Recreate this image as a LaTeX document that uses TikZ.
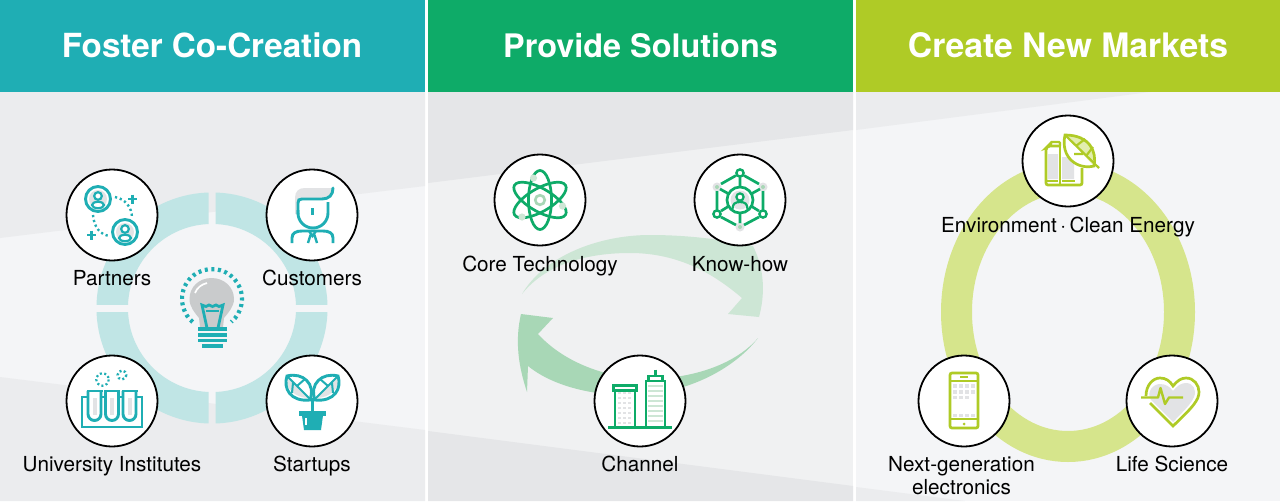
\documentclass[tikz,border=0pt]{standalone}
\usepackage{fontspec}
\setmainfont{TeX Gyre Heros}
\definecolor{teal1}{HTML}{1FAEB4}
\definecolor{green1}{HTML}{0EAB68}
\definecolor{lime1}{HTML}{AFCB26}
\definecolor{bgA}{HTML}{F4F5F7}
\definecolor{bgB}{HTML}{F0F1F2}
\definecolor{bandA}{HTML}{EBECEE}
\definecolor{bandB}{HTML}{E5E6E8}
\definecolor{ringT}{HTML}{C0E5E5}
\definecolor{ringL}{HTML}{D6E58C}
\definecolor{arrLight}{HTML}{CDE6D5}
\definecolor{arrDark}{HTML}{A8D7B6}
\definecolor{icg}{HTML}{E2E3E5}
\definecolor{bulbg}{HTML}{C9CBCC}
\tikzset{
  iconring/.style={circle,draw=black,fill=white,line width=1.8pt,minimum size=91pt,inner sep=0pt},
  lab/.style={font=\fontsize{20.7}{23}\selectfont,text=black,anchor=base,inner sep=0pt},
  head/.style={text=white,anchor=base,inner sep=0pt},
  tl/.style={draw=teal1,line width=2.9pt},
  gl/.style={draw=green1,line width=2.7pt},
  ll/.style={draw=lime1,line width=2.7pt},
}
\begin{document}
\begin{tikzpicture}[x=1pt,y=-1pt]
\useasboundingbox (0,0) rectangle (1280,501);
\fill[white] (0,0) rectangle (1280,501);
% panels
\fill[bgA] (0,92) rectangle (425,501);
\fill[bgB] (428,92) rectangle (853,501);
\fill[bgA] (856,92) rectangle (1280,501);
\fill[bandA] (0,92) -- (425,92) -- (425,186) -- (0,238) -- cycle;
\fill[bandB] (428,92) -- (853,92) -- (853,130) -- (428,183) -- cycle;
\fill[bandA] (856,92) -- (1150,92) -- (856,130) -- cycle;
\fill[bandA] (0,377) -- (425,430) -- (425,501) -- (0,501) -- cycle;
\fill[bandB] (428,431) -- (853,486) -- (853,501) -- (428,501) -- cycle;
\fill[bandA] (856,487) -- (965,501) -- (856,501) -- cycle;
\fill[teal1] (0,0) rectangle (425,92);
\fill[green1] (428,0) rectangle (853,92);
\fill[lime1] (856,0) rectangle (1280,92);
\node[head,font=\bfseries\fontsize{33.2}{36}\selectfont] (h1) at (212,57) {Foster Co-Creation};
\node[head,font=\bfseries\fontsize{32.4}{36}\selectfont] (h2) at (640.5,57) {Provide Solutions};
\node[head,font=\bfseries\fontsize{33.7}{36}\selectfont] (h3) at (1068,57) {Create New Markets};
% ring 1
\foreach \xa/\ya/\xb/\yb in {90/185/208.5/304, 215.7/185/335/304, 90/312/208.5/430, 215.7/312/335/430}{
  \begin{scope}
    \clip (\xa,\ya) rectangle (\xb,\yb);
    \draw[ringT,line width=31.5pt] (212,308) circle (99.8);
  \end{scope}}
% ring 3
\draw[ringL,line width=31pt] (1068,312) ellipse (111.5 and 134.5);
% arrows
\fill[arrLight] (522,294) .. controls (545,255) and (600,235) .. (650,235)
  .. controls (690,235) and (725,240) .. (753,246)
  .. controls (765,270) and (765,295) .. (759,317) -- (728,314) -- (742,298)
  .. controls (715,275) and (680,253) .. (630,253)
  .. controls (585,253) and (545,265) .. (522,294) -- cycle;
\fill[arrDark] (758,338) .. controls (735,368) and (690,392) .. (640,395)
  .. controls (600,397) and (555,388) .. (528,366) -- (527,392)
  .. controls (518,365) and (515,340) .. (521,314) -- (553,318) -- (538,334)
  .. controls (560,358) and (595,375) .. (640,379)
  .. controls (690,380) and (735,365) .. (758,338) -- cycle;
% circles
\node[iconring] (partners) at (112,215) {};
\node[iconring] (customers) at (312,215) {};
\node[iconring] (university) at (112,401) {};
\node[iconring] (startups) at (312,401) {};
\node[iconring] (core) at (540,200) {};
\node[iconring] (knowhow) at (740,200) {};
\node[iconring] (channel) at (640,401) {};
\node[iconring] (env) at (1068,161) {};
\node[iconring] (nextgen) at (964,401) {};
\node[iconring] (life) at (1172,401) {};
% labels
\node[lab] (lpartners) at (112,285.5) {Partners};
\node[lab] (lcustomers) at (312,285.5) {Customers};
\node[lab] (luniversity) at (112,471) {University Institutes};
\node[lab] (lstartups) at (312,471) {Startups};
\node[lab] (lcore) at (540,271) {Core Technology};
\node[lab] (lknow) at (740,271) {Know-how};
\node[lab] (lchannel) at (640,471) {Channel};
\node[lab] (lenv) at (1068,232.5) {Environment\,·\,Clean Energy};
\node[lab] (lnext) at (961.5,471) {Next-generation};
\node[lab] (lelec) at (961.5,494) {electronics};
\node[lab] (llife) at (1172,471) {Life Science};
% --- Partners icon
\fill[icg] (98,199) circle (9) (125,232) circle (9);
\draw[tl] (98,199) circle (12.5) (125,232) circle (12.5);
\foreach \cx/\cy in {98/199,125/232}{
  \draw[teal1,line width=2.2pt,fill=white] (\cx,\cy-3) circle (3.8);
  \draw[teal1,line width=2.2pt,fill=white] (\cx,\cy+6) ellipse (6 and 3.2);
}
\draw[teal1,line width=2.4pt,dash pattern=on 2.2pt off 2.8pt] (115,197) .. controls (125,199) and (132,207) .. (132,218);
\draw[teal1,line width=2.4pt,dash pattern=on 2.2pt off 2.8pt] (93,215) .. controls (94,227) and (100,235) .. (110,236);
\draw[teal1,line width=2.6pt] (128,199) -- (137,199) (132.5,194.5) -- (132.5,203.5) (87,235) -- (96,235) (91.5,230.5) -- (91.5,239.5);
% --- Customers icon
\fill[icg] (295,198) .. controls (295,191) and (299,188) .. (305,188) -- (333,188) -- (333,194) .. controls (330,198) and (325,199) .. (320,199) -- (298,199) -- (298,214) -- (295,214) -- cycle;
\draw[tl,line cap=round] (298,214) -- (298,203) .. controls (298,200) and (299,199) .. (302,199) -- (322,199) .. controls (329,199) and (333,195) .. (333,188);
\draw[tl] (328,202) -- (328,213) arc[start angle=0,end angle=180,radius=15] -- (298,210);
\draw[teal1,line width=2.4pt] (312.5,208) -- (312.5,215);
\draw[tl] (292,243) -- (292,238) .. controls (292,233) and (296,231) .. (302,231) -- (323,231) .. controls (329,231) and (333,233) .. (333,238) -- (333,243);
\draw[teal1,line width=2.4pt] (309,231) -- (312.5,236) -- (316,231) (310.5,235) -- (308,243) (314.5,235) -- (317,243);
% --- Bulb icon
\draw[teal1,line width=4.2pt,dash pattern=on 3pt off 3.6pt] (192.7,322) arc[start angle=130,end angle=410,radius=30];
\fill[bulbg] (200,327) -- (199,318) .. controls (195,313) and (189.5,307) .. (189.5,299)
  .. controls (189.5,287) and (199,278) .. (211.5,278) .. controls (224,278) and (234,287) .. (234,299)
  .. controls (234,307) and (228,313) .. (224,318) -- (223,327) -- cycle;
\draw[white,line width=1.7pt] (195,293) .. controls (197,288) and (201,284.5) .. (207,283);
\draw[teal1,line width=2.8pt,line join=miter] (207,328) -- (202,305) -- (206,306.5) -- (209,305) -- (212.5,306.5) -- (216,305) -- (219,306.5) -- (223,305) -- (218,328);
\draw[teal1,line width=2pt] (206,310.5) -- (219,310.5);
\draw[teal1,line width=3.4pt] (198,329) -- (227,329) (198,335) -- (227,335) (198,340.5) -- (227,340.5) (202,346) -- (223,346);
% --- University icon
\draw[tl] (82,397) rectangle (142,427);
\foreach \cx in {94.5,112,129.5}{
  \fill[white] (\cx-6.5,391) -- (\cx-6.5,414) arc[start angle=180,end angle=0,radius=6.5] -- (\cx+6.5,391) -- cycle;
  \fill[icg] (\cx-2,398) rectangle (\cx+2,415);
  \draw[tl] (\cx-6.5,391) -- (\cx-6.5,414) arc[start angle=180,end angle=0,radius=6.5] -- (\cx+6.5,391);
  \draw[teal1,line width=2.6pt] (\cx-8,391) -- (\cx+8,391);
}
\draw[teal1,line width=2.2pt,dash pattern=on 2pt off 2.4pt] (102.5,379.5) circle (6.2);
\draw[teal1,line width=2.4pt,dash pattern=on 2pt off 2.4pt] (122,375) circle (4.4);
% --- Startups icon
\fill[icg] (287,376) .. controls (284,388) and (295,398) .. (309,398) -- cycle;
\fill[icg] (338,376) .. controls (341,388) and (330,398) .. (316,398) -- cycle;
\draw[tl] (310,400) .. controls (290,402) and (283,388) .. (287,376) .. controls (303,372) and (316,384) .. (310,400) -- cycle;
\draw[tl] (315,400) .. controls (335,402) and (342,388) .. (338,376) .. controls (322,372) and (309,384) .. (315,400) -- cycle;
\draw[teal1,line width=2pt] (288,377) -- (310,399) (297,386) -- (305,379) (293,383) -- (292,393) (337,377) -- (315,399) (328,386) -- (320,379) (332,383) -- (333,393);
\draw[tl] (312.5,398) -- (312.5,412);
\fill[teal1] (299,410.5) rectangle (326,415.5);
\fill[teal1] (302,415.5) -- (323,415.5) -- (321,430) -- (304,430) -- cycle;
\fill[white] (304.5,418) rectangle (306.5,425);
% --- Atom icon
\foreach \r in {0,60,-60}{
  \draw[gl,rotate around={\r:(540,200)}] (540,200) ellipse (11.5 and 29.5);
}
\draw[arrDark,line width=2.6pt] (540,200) circle (4.8);
\fill[arrLight] (533.5,178) circle (3.6) (562.5,206) circle (3.6) (522,217) circle (3.6);
% --- Know-how icon
\fill[icg] (740,200) circle (9.5);
\foreach \x/\y in {717/187,763/187,740/227}{ \fill[icg] (\x,\y) circle (4.5); \fill[arrDark] (\x,\y) circle (2); }
\draw[gl] (740,200) circle (13);
\draw[gl] (744,175.5) -- (759,184) (736,175.5) -- (721,184) (717,191) -- (717,210) (763,191) -- (763,210) (721,217) -- (736,225) (759,217) -- (744,225);
\draw[gl] (740,177) -- (740,187) (729,194) -- (720,189) (751,194) -- (760,189) (729,206) -- (721,211) (751,206) -- (759,211) (740,213) -- (740,223);
\draw[green1,line width=2.4pt,fill=white] (740,173) circle (3.6) (717,214) circle (3.6) (763,214) circle (3.6);
\draw[green1,line width=2.2pt,fill=white] (740,197) circle (3.6);
\draw[green1,line width=2.2pt] (732.5,209) .. controls (732.5,204) and (735,202) .. (740,202) .. controls (745,202) and (747.5,204) .. (747.5,209);
% --- Channel icon
\foreach \y in {393,398,403,408,413,418,423}{ \foreach \x in {619.5,624.5,629.5}{ \fill[icg] (\x-1.2,\y-1.2) rectangle (\x+1.2,\y+1.2); } }
\foreach \y in {386,391,396,401,406,411,416,421}{ \fill[arrLight] (648,\y-1.2) rectangle (663,\y+1.2); }
\draw[gl] (615,391) -- (615,427) (635,391) -- (635,427) (646,381) -- (646,427) (665,381) -- (665,427);
\draw[gl] (613.5,385.5) rectangle (636.5,390.5);
\draw[gl] (648.5,376) rectangle (662.5,381) (645,381) -- (666,381);
\draw[gl] (655.5,369.5) -- (655.5,376);
\draw[gl,line width=3pt] (608,427) -- (672,427);
% --- Energy icon
\fill[icg] (1048,154) rectangle (1058,179) (1062,157) rectangle (1074,179);
\draw[ll,rounded corners=2pt] (1060,146) -- (1048,146) -- (1046,148) -- (1046,185) -- (1082,185) -- (1082,168);
\draw[ll] (1060,146) -- (1060,185) (1046,181) -- (1058,181) (1062,181) -- (1075,181);
\draw[lime1,line width=2.4pt,rounded corners=1pt] (1051,146) -- (1051,142) -- (1060,142) -- (1060,146);
\fill[white] (1065,135) .. controls (1090,135) and (1097,152) .. (1094,166) .. controls (1078,170) and (1060,158) .. (1065,135) -- cycle;
\fill[ringL!70!white] (1065,135) .. controls (1090,135) and (1097,152) .. (1094,166) -- cycle;
\draw[ll] (1065,135) .. controls (1090,135) and (1097,152) .. (1094,166) .. controls (1078,170) and (1060,158) .. (1065,135) -- cycle;
\draw[ll,line width=2.2pt] (1065,135) -- (1099,168) (1076,146) -- (1085,139) (1086,156) -- (1093,147) (1074,154) -- (1083,154);
% --- Phone icon
\draw[ll,rounded corners=2pt] (950,373) rectangle (978,428);
\draw[lime1,line width=2.2pt] (950,381) -- (978,381) (950,419) -- (978,419);
\draw[lime1,line width=2pt] (960,377) -- (968,377);
\fill[lime1] (964,424) circle (1.5);
\foreach \y in {386,392,397.5}{ \foreach \x in {955,961,967}{ \fill[icg] (\x-1.8,\y-1.8) rectangle (\x+1.8,\y+1.8); } }
\foreach \x in {955,961,967,973}{ \fill[icg] (\x-1.8,415.5-1.8) rectangle (\x+1.8,415.5+1.8); }
\foreach \y in {386,392}{ \fill[icg] (973-1.8,\y-1.8) rectangle (973+1.8,\y+1.8); }
% --- Heart icon
\fill[icg] (1173,422) -- (1151,400) .. controls (1146,392) and (1153,384) .. (1160,384) .. controls (1166,384) and (1170,387) .. (1173,391) .. controls (1177,386) and (1181,383) .. (1186,383) .. controls (1193,383) and (1197,390) .. (1194,397) .. controls (1192,402) and (1187,408) .. cycle;
\draw[ll] (1146,396) .. controls (1146,385) and (1153,378) .. (1160,378) .. controls (1166,378) and (1170,381) .. (1173,386) .. controls (1177,381) and (1181,378) .. (1186,378) .. controls (1194,378) and (1199,385) .. (1199,392) .. controls (1199,400) and (1193,407) .. (1173,426) -- (1150,403);
\draw[lime1,line width=2.4pt,line join=round] (1141,397.5) -- (1158,397.5) -- (1160.5,388) -- (1165,404) -- (1169,397.5) -- (1183,397.5);
\end{tikzpicture}
\end{document}
